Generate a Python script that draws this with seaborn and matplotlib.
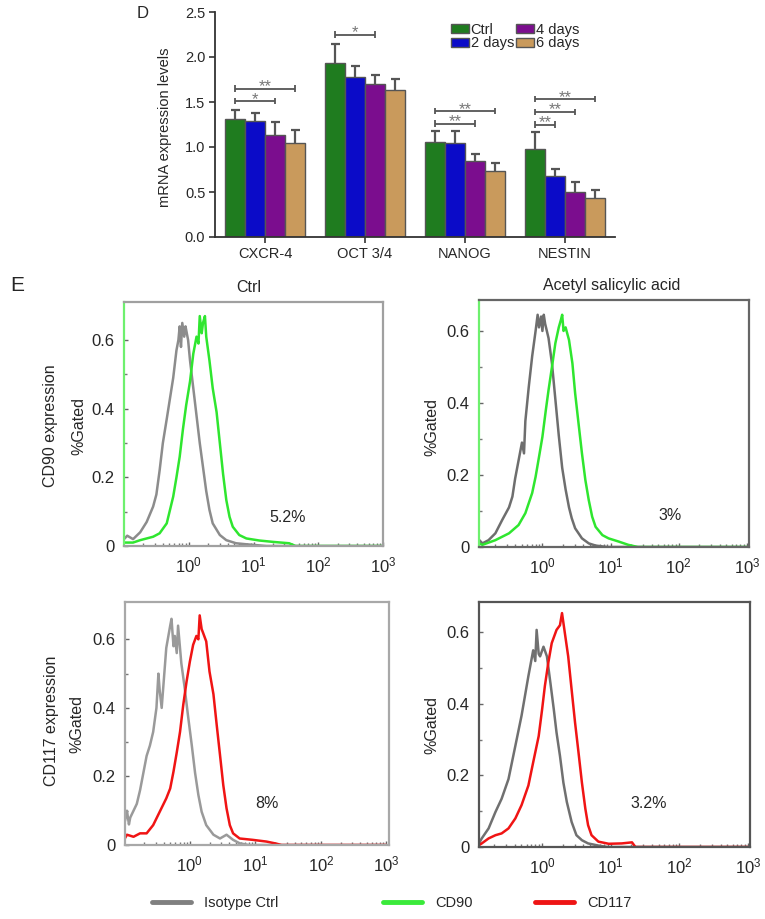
import numpy as np
import pandas as pd
import matplotlib
matplotlib.use("Agg")
import matplotlib.pyplot as plt
import seaborn as sns
from matplotlib.lines import Line2D
from matplotlib.ticker import FixedLocator, LogLocator, NullFormatter, FuncFormatter

# ---------------- data: panel D ----------------
genes = ["CXCR-4", "OCT 3/4", "NANOG", "NESTIN"]
groups = ["Ctrl", "2 days", "4 days", "6 days"]
ctrl = [1.31, 1.93, 1.06, 0.98]
d2 = [1.29, 1.78, 1.05, 0.68]
d4 = [1.13, 1.70, 0.85, 0.50]
d6 = [1.04, 1.63, 0.73, 0.43]
ctrl_sd = [0.10, 0.21, 0.12, 0.19]
d2_sd = [0.09, 0.12, 0.13, 0.08]
d4_sd = [0.15, 0.10, 0.07, 0.11]
d6_sd = [0.15, 0.13, 0.09, 0.09]
# significance brackets: gene index, from group, to group, height, label
sig_gene = [0, 0, 1, 2, 2, 3, 3, 3]
sig_from = [0, 0, 0, 0, 0, 0, 0, 0]
sig_to = [3, 2, 2, 3, 2, 3, 2, 1]
sig_h = [1.65, 1.51, 2.25, 1.40, 1.26, 1.53, 1.39, 1.25]
sig_lab = ["**", "*", "*", "**", "**", "**", "**", "**"]

# ---------------- data: panel E (log10 of intensity, %gated) ----------------
tl_gray_x = [-1.0, -0.95, -0.86, -0.75, -0.65, -0.55, -0.50, -0.45, -0.40, -0.34, -0.29, -0.24, -0.19, -0.16,
             -0.14, -0.12, -0.10, -0.07, -0.05, -0.03, -0.01, 0.02, 0.07, 0.12, 0.17, 0.22, 0.27, 0.32, 0.37,
             0.48, 0.58, 0.73, 0.89, 1.2, 3.0]
tl_gray_y = [0.02, 0.03, 0.02, 0.04, 0.07, 0.115, 0.15, 0.22, 0.30, 0.37, 0.43, 0.49, 0.57, 0.60,
             0.64, 0.58, 0.65, 0.61, 0.64, 0.62, 0.60, 0.54, 0.46, 0.38, 0.30, 0.23, 0.16, 0.105, 0.066,
             0.032, 0.017, 0.008, 0.005, 0.0, 0.0]
tl_green_x = [-1.0, -0.86, -0.75, -0.65, -0.55, -0.45, -0.34, -0.29, -0.24, -0.19, -0.14, -0.09, -0.04, 0.02,
              0.07, 0.12, 0.15, 0.17, 0.20, 0.22, 0.25, 0.27, 0.32, 0.37, 0.43, 0.48, 0.53, 0.58, 0.63, 0.68,
              0.78, 0.89, 1.09, 1.30, 1.55, 1.65, 3.0]
tl_green_y = [0.01, 0.01, 0.017, 0.022, 0.027, 0.037, 0.066, 0.105, 0.144, 0.20, 0.26, 0.34, 0.41, 0.48,
              0.56, 0.61, 0.59, 0.67, 0.62, 0.65, 0.67, 0.61, 0.54, 0.46, 0.39, 0.30, 0.21, 0.134, 0.085, 0.056,
              0.032, 0.022, 0.016, 0.012, 0.008, 0.0, 0.0]

tr_gray_x = [-0.93, -0.88, -0.79, -0.69, -0.59, -0.49, -0.44, -0.40, -0.35, -0.30, -0.27, -0.25, -0.20, -0.15,
             -0.10, -0.07, -0.05, -0.02, 0.0, 0.02, 0.04, 0.09, 0.14, 0.19, 0.24, 0.29, 0.34, 0.39, 0.43, 0.48,
             0.58, 0.68, 0.78, 0.95, 3.0]
tr_gray_y = [0.02, 0.01, 0.019, 0.038, 0.075, 0.11, 0.14, 0.19, 0.24, 0.29, 0.26, 0.35, 0.445, 0.53,
             0.60, 0.645, 0.61, 0.64, 0.60, 0.645, 0.62, 0.58, 0.51, 0.41, 0.31, 0.22, 0.16, 0.11, 0.08, 0.052,
             0.024, 0.01, 0.004, 0.0, 0.0]
tr_green_x = [-0.93, -0.88, -0.69, -0.49, -0.35, -0.25, -0.15, -0.10, -0.05, 0.0, 0.05, 0.09, 0.14, 0.19, 0.24,
              0.27, 0.29, 0.31, 0.34, 0.39, 0.44, 0.48, 0.53, 0.58, 0.63, 0.68, 0.73, 0.78, 0.88, 0.97, 1.12,
              1.26, 1.4, 3.0]
tr_green_y = [0.01, 0.006, 0.019, 0.038, 0.061, 0.094, 0.15, 0.195, 0.25, 0.306, 0.38, 0.436, 0.50, 0.566, 0.61,
              0.63, 0.645, 0.60, 0.61, 0.575, 0.51, 0.427, 0.343, 0.26, 0.186, 0.13, 0.084, 0.056, 0.033, 0.024,
              0.015, 0.006, 0.0, 0.0]

bl_gray_x = [-0.99, -0.96, -0.93, -0.91, -0.86, -0.81, -0.76, -0.71, -0.66, -0.61, -0.56, -0.51, -0.48, -0.46,
             -0.43, -0.41, -0.36, -0.30, -0.28, -0.25, -0.23, -0.20, -0.18, -0.13, -0.08, -0.03, 0.03, 0.08,
             0.13, 0.18, 0.25, 0.36, 0.46, 0.56, 0.66, 0.76, 0.9, 3.0]
bl_gray_y = [0.07, 0.10, 0.06, 0.08, 0.10, 0.12, 0.16, 0.21, 0.26, 0.29, 0.33, 0.40, 0.50, 0.45,
             0.40, 0.45, 0.575, 0.64, 0.66, 0.58, 0.61, 0.56, 0.64, 0.53, 0.46, 0.38, 0.29, 0.21,
             0.146, 0.097, 0.058, 0.03, 0.019, 0.03, 0.015, 0.005, 0.0, 0.0]
bl_red_x = [-0.99, -0.96, -0.86, -0.76, -0.66, -0.56, -0.46, -0.36, -0.30, -0.25, -0.20, -0.15, -0.10, -0.05,
            0.0, 0.05, 0.10, 0.13, 0.15, 0.18, 0.20, 0.25, 0.30, 0.36, 0.41, 0.46, 0.51, 0.56, 0.61, 0.66,
            0.76, 0.96, 1.17, 1.32, 1.4, 3.0]
bl_red_y = [0.02, 0.03, 0.024, 0.034, 0.034, 0.058, 0.097, 0.136, 0.165, 0.214, 0.27, 0.33, 0.41, 0.477,
            0.535, 0.584, 0.61, 0.60, 0.67, 0.63, 0.62, 0.594, 0.506, 0.44, 0.35, 0.263, 0.175, 0.107, 0.058,
            0.034, 0.019, 0.015, 0.01, 0.004, 0.0, 0.0]

br_gray_x = [-0.92, -0.88, -0.78, -0.68, -0.59, -0.49, -0.39, -0.30, -0.20, -0.13, -0.10, -0.08, -0.05, -0.03,
             0.02, 0.07, 0.12, 0.17, 0.21, 0.26, 0.31, 0.36, 0.43, 0.50, 0.58, 0.67, 0.82, 0.95, 3.0]
br_gray_y = [0.01, 0.024, 0.052, 0.098, 0.135, 0.19, 0.283, 0.367, 0.478, 0.55, 0.52, 0.607, 0.54, 0.533,
             0.56, 0.533, 0.46, 0.385, 0.32, 0.255, 0.18, 0.126, 0.07, 0.033, 0.019, 0.01, 0.004, 0.0, 0.0]
br_red_x = [-0.92, -0.88, -0.78, -0.68, -0.59, -0.49, -0.39, -0.30, -0.20, -0.13, -0.05, 0.0, 0.04, 0.09,
            0.14, 0.21, 0.26, 0.29, 0.33, 0.38, 0.43, 0.48, 0.53, 0.58, 0.63, 0.67, 0.72, 0.82, 0.97, 1.16,
            1.31, 1.36, 3.0]
br_red_y = [0.005, 0.01, 0.024, 0.033, 0.038, 0.052, 0.08, 0.117, 0.172, 0.237, 0.31, 0.385, 0.45, 0.515,
            0.57, 0.607, 0.62, 0.654, 0.60, 0.533, 0.44, 0.348, 0.265, 0.18, 0.107, 0.061, 0.033, 0.015,
            0.009, 0.01, 0.013, 0.0, 0.0]

pct_labels = ["5.2%", "3%", "8%", "3.2%"]
legend_labels = ["Isotype Ctrl", "CD90", "CD117"]

# ---------------- style ----------------
sns.set_style("ticks")
plt.rcParams["font.family"] = ["Liberation Sans", "DejaVu Sans"]
plt.rcParams["mathtext.fontset"] = "custom"
plt.rcParams["mathtext.rm"] = "Liberation Sans"
plt.rcParams["mathtext.it"] = "Liberation Sans:italic"
plt.rcParams["mathtext.bf"] = "Liberation Sans:bold"

W, H = 765, 919
fig = plt.figure(figsize=(W / 100, H / 100), dpi=100)


def rect(l, t, r, b):
    return [l / W, 1 - b / H, (r - l) / W, (b - t) / H]


def ftext(x, y, s, **kw):
    fig.text(x / W, 1 - y / H, s, ha="center", va="center", **kw)


# ---------------- Panel D ----------------
bar_colors = ["#1f7c1f", "#0b0bc8", "#7b0d8e", "#c99a5c"]
axD = fig.add_axes(rect(215, 12, 615, 237))
df = pd.DataFrame({
    "gene": genes * 4,
    "group": np.repeat(groups, 4),
    "value": ctrl + d2 + d4 + d6,
})
sns.barplot(data=df, x="gene", y="value", hue="group", order=genes, hue_order=groups,
            palette=bar_colors, saturation=1, width=0.8, errorbar=None,
            edgecolor="#555555", linewidth=1.0, ax=axD)

vals = [ctrl, d2, d4, d6]
sds = [ctrl_sd, d2_sd, d4_sd, d6_sd]
centers = []
for k, cont in enumerate(axD.containers):
    xs = np.array([p.get_x() + p.get_width() / 2 for p in cont.patches])
    centers.append(xs)
    tops = np.array(vals[k]) + np.array(sds[k])
    axD.vlines(xs, vals[k], tops, color="#555555", lw=1.6, zorder=3)
    axD.hlines(tops, xs - 0.045, xs + 0.045, color="#555555", lw=1.6, zorder=3)

for g, a, b, h, lab in zip(sig_gene, sig_from, sig_to, sig_h, sig_lab):
    x1, x2 = centers[a][g], centers[b][g]
    axD.plot([x1, x2], [h, h], color="#555555", lw=1.3, solid_capstyle="butt")
    axD.vlines([x1, x2], h - 0.035, h + 0.035, color="#555555", lw=1.3)
    axD.text((x1 + x2) / 2, h - 0.03, lab, ha="center", va="baseline", fontsize=12, color="#777777")

axD.set_xlim(-0.5, 3.5)
axD.set_ylim(0, 2.5)
axD.set_yticks([0, 0.5, 1.0, 1.5, 2.0, 2.5])
axD.set_yticklabels(["0.0", "0.5", "1.0", "1.5", "2.0", "2.5"])
axD.set_xlabel("")
axD.set_ylabel("")
sns.despine(ax=axD)
for s in ["left", "bottom"]:
    axD.spines[s].set_color("#333333")
    axD.spines[s].set_linewidth(1.3)
axD.tick_params(axis="both", direction="out", length=4, width=1.2, color="#333333",
                labelsize=10.5, pad=3)

handles, labels = axD.get_legend_handles_labels()
axD.legend(handles, labels, ncol=2, loc="upper left", bbox_to_anchor=(451 / W, 1 - 23 / H),
           bbox_transform=fig.transFigure, frameon=False, fontsize=10.5, handlelength=1.2,
           handleheight=0.55, handletextpad=0.15, columnspacing=0.15, labelspacing=-0.05,
           borderpad=0, borderaxespad=0)

ftext(143, 14, "D", fontsize=12)
ftext(165, 127, "mRNA expression levels", fontsize=10.5, rotation=90)

# ---------------- Panel E ----------------
green = "#2fe62f"
red = "#f01414"


def hist_panel(px, xl, ytop, gray_xy, col_xy, col, left_col, frame_col, gray_col):
    ax = fig.add_axes(rect(*px))
    gx, gy = gray_xy
    cx, cy = col_xy
    sns.lineplot(x=10 ** np.asarray(gx), y=gy, color=gray_col, lw=1.8, estimator=None, sort=False, ax=ax)
    sns.lineplot(x=10 ** np.asarray(cx), y=cy, color=col, lw=1.8, estimator=None, sort=False, ax=ax)
    ax.set_xscale("log")
    ax.set_xlim(10 ** xl[0], 10 ** xl[1])
    ax.set_ylim(0, ytop)
    ax.xaxis.set_major_locator(FixedLocator([1, 10, 100, 1000]))
    ax.xaxis.set_major_formatter(FuncFormatter(lambda v, p: "$10^{%d}$" % int(round(np.log10(v)))))
    ax.xaxis.set_minor_locator(LogLocator(base=10, subs=np.arange(2, 10), numticks=30))
    ax.xaxis.set_minor_formatter(NullFormatter())
    ax.set_yticks([0, 0.2, 0.4, 0.6])
    ax.set_yticklabels(["0", "0.2", "0.4", "0.6"])
    ax.yaxis.set_minor_locator(FixedLocator([0.1, 0.3, 0.5]))
    ax.set_xlabel("")
    ax.set_ylabel("")
    ax.tick_params(which="major", direction="in", length=3, width=1, color="#666666",
                   labelsize=12, top=False, right=False)
    ax.tick_params(axis="x", which="major", pad=7)
    ax.tick_params(axis="y", which="major", pad=7)
    ax.tick_params(which="minor", direction="in", length=2, width=1, color="#777777",
                   top=False, right=False)
    for s in ["top", "right", "bottom"]:
        ax.spines[s].set_color(frame_col)
        ax.spines[s].set_linewidth(1.6)
    ax.spines["left"].set_color(left_col)
    ax.spines["left"].set_linewidth(1.6)
    return ax


ax_tl = hist_panel((124, 302, 383, 546), (-1.0, 3.0), 0.711,
                   (tl_gray_x, tl_gray_y), (tl_green_x, tl_green_y), green,
                   "#6ef06e", "#a0a0a0", "#8c8c8c")
ax_tr = hist_panel((479, 300, 749, 547), (-0.93, 3.03), 0.686,
                   (tr_gray_x, tr_gray_y), (tr_green_x, tr_green_y), green,
                   "#6ef06e", "#666666", "#6e6e6e")
ax_bl = hist_panel((125, 602, 389, 845), (-0.99, 3.04), 0.709,
                   (bl_gray_x, bl_gray_y), (bl_red_x, bl_red_y), red,
                   "#a8a8a8", "#a8a8a8", "#9a9a9a")
ax_br = hist_panel((479, 602, 750, 847), (-0.92, 3.03), 0.685,
                   (br_gray_x, br_gray_y), (br_red_x, br_red_y), red,
                   "#555555", "#555555", "#707070")

ftext(17, 286, "E", fontsize=15)
ftext(249, 288, "Ctrl", fontsize=11.5)
ftext(612, 286, "Acetyl salicylic acid", fontsize=11.5)
ftext(51, 426, "CD90 expression", fontsize=11.5, rotation=90)
ftext(79, 426, "%Gated", fontsize=11.5, rotation=90)
ftext(432, 427, "%Gated", fontsize=11.5, rotation=90)
ftext(52, 721, "CD117 expression", fontsize=11.5, rotation=90)
ftext(77, 724, "%Gated", fontsize=11.5, rotation=90)
ftext(432, 725, "%Gated", fontsize=11.5, rotation=90)

for (x, y), s in zip([(288, 517), (670, 516), (267, 804), (649, 803)], pct_labels):
    ftext(x, y, s, fontsize=11.5)

# bottom legend
for (x0, col), lab in zip([(152, "#808080"), (383, "#3aea3a"), (535, "#ee1414")], legend_labels):
    fig.legend([Line2D([0], [0], color=col, lw=3.5)], [lab], loc="center left",
               bbox_to_anchor=(x0 / W, 1 - 903 / H), frameon=False, fontsize=10.5,
               handlelength=2.7, handletextpad=0.85, borderpad=0, borderaxespad=0)

fig.savefig("out.png", dpi=100)
